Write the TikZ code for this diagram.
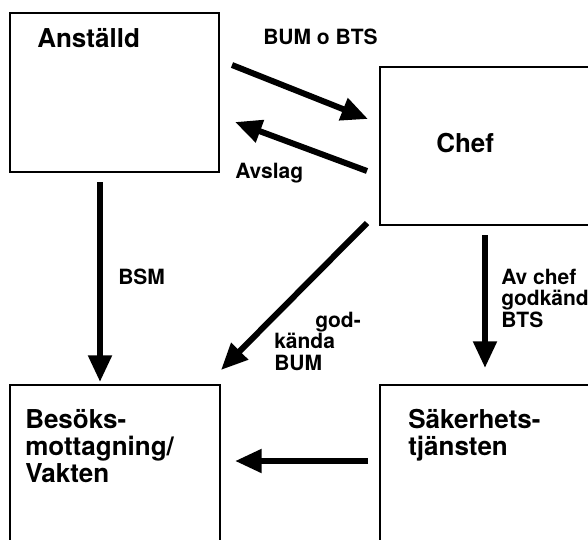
\documentclass[tikz,border=0pt]{standalone}
\usepackage{fontspec}
\setmainfont{TeX Gyre Heros}
\usetikzlibrary{arrows.meta, positioning}

\tikzset{
  box/.style={draw, line width=2pt, inner sep=0pt, outer sep=0pt, anchor=north west},
  boxtext/.style={anchor=base west, inner sep=0pt, align=left, font=\fontsize{19.5}{20.25}\selectfont\bfseries},
  edgetext/.style={anchor=base west, inner sep=0pt, align=left, font=\fontsize{15.75}{16.1}\selectfont\bfseries},
  flow/.style={line width=4.5pt, -{Triangle[width=17pt,length=20pt]}},
}

\begin{document}
\begin{tikzpicture}[x=0.75pt,y=0.75pt,yscale=-1,xscale=1]
\path[use as bounding box, clip] (0,0) rectangle (588,539);

%Boxes
\node[box, minimum width=156.75pt, minimum height=119.25pt] (anst) at (10,13) {};
\node[box, minimum width=180pt, minimum height=118.5pt] (chef) at (380,67) {};
\node[box, minimum width=157.5pt, minimum height=150pt] (besok) at (10,385) {};
\node[box, minimum width=180pt, minimum height=150pt] (saker) at (380,385) {};

% Text Node
\node[boxtext] (anstlbl) at (37,47) {Anställd};
% Text Node
\node[boxtext] (cheflbl) at (436,152) {Chef};
% Text Node (baseline = last line)
\node[boxtext] (besoklbl) at (25,482) {Besöks-\\mottagning/\\Vakten};
% Text Node
\node[boxtext] (sakerlbl) at (408,455) {Säkerhets-\\tjänsten};

%Straight Lines
\draw[flow] ([shift={(13,52)}]anst.north east) -- ([shift={(-12,52)}]chef.north west);
%Straight Lines
\draw[flow] ([shift={(-13,104)}]chef.north west) -- ([shift={(16,109)}]anst.north east);
%Straight Lines
\draw[flow] ([shift={(90,10)}]anst.south west) -- ([shift={(90,-3)}]besok.north west);
%Straight Lines
\draw[flow] ([shift={(-13,-2)}]chef.south west) -- ([shift={(1,-15)}]besok.north east);
%Straight Lines
\draw[flow] ([shift={(105,10)}]chef.south west) -- ([shift={(105,-17)}]saker.north west);
%Straight Lines
\draw[flow] ([shift={(-12,76)}]saker.north west) -- ([shift={(15,76)}]besok.north east);

% Text Node
\node[edgetext] (bumbts) at (263,44) {BUM o BTS};
% Text Node
\node[edgetext] (avslag) at (235,178) {Avslag};
% Text Node
\node[edgetext] (bsm) at (118,284) {BSM};
% Text Node
\node[edgetext] (godbum) at (274,370) {\hspace*{30.75pt}god-\\kända\\BUM};
% Text Node
\node[edgetext] (godbts) at (501,327) {Av chef\\godkända\\BTS};

\end{tikzpicture}
\end{document}
